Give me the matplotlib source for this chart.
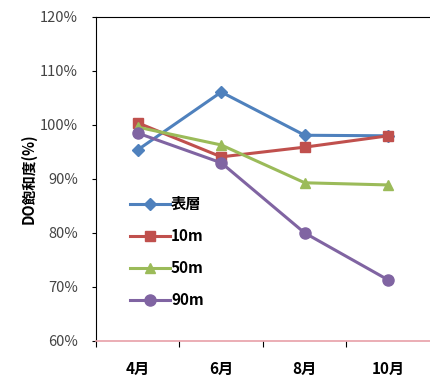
import matplotlib
matplotlib.use('Agg')
import matplotlib.pyplot as plt

plt.rcParams['font.family'] = ['Noto Sans CJK JP', 'DejaVu Sans']

months = ['4月', '6月', '8月', '10月']
surface = [95.4, 106.1, 98.1, 98.0]
depth_10m = [100.4, 94.1, 95.9, 98.0]
depth_50m = [99.6, 96.3, 89.3, 88.9]
depth_90m = [98.5, 93.0, 80.0, 71.3]
series_names = ['表層', '10m', '50m', '90m']
yticks = [60, 70, 80, 90, 100, 110, 120]

fig = plt.figure(figsize=(4.31, 3.76), dpi=100)
fig.patch.set_facecolor('white')
ax = fig.add_axes([96 / 431, 35 / 376, 334 / 431, 324 / 376])

x = range(len(months))
styles = [('#4F81BD', 'D', 6), ('#C0504D', 's', 7), ('#9BBB59', '^', 7), ('#8064A2', 'o', 8)]
for vals, name, (c, m, ms) in zip([surface, depth_10m, depth_50m, depth_90m], series_names, styles):
    ax.plot(x, vals, color=c, marker=m, markersize=ms, linewidth=2.2, label=name)

ax.set_xlim(-0.5, 3.5)
ax.set_ylim(60, 120)
ax.set_yticks(yticks)
ax.set_yticklabels([f'{v}%' for v in yticks], fontsize=10.5, color='#444444')

# month labels in the middle, tick marks on the category borders
ax.set_xticks([-0.5, 0.5, 1.5, 2.5])
ax.set_xticklabels([])
ax.set_xticks(list(x), minor=True)
ax.set_xticklabels(months, minor=True, fontsize=11, fontweight='bold')
ax.tick_params(axis='x', which='minor', length=0, pad=14)
ax.tick_params(axis='x', which='major', length=4, direction='out')
ax.tick_params(axis='y', length=3, direction='out', pad=10)

ax.spines['right'].set_visible(False)
ax.spines['left'].set_color('black')
ax.spines['top'].set_color('black')
ax.spines['bottom'].set_color('#E8A0A8')
ax.spines['bottom'].set_linewidth(1.2)

ax.set_ylabel('DO飽和度(%)', fontsize=10.5, fontweight='bold', labelpad=2)

leg = ax.legend(loc='upper left', bbox_to_anchor=(0.06, 0.49), frameon=False,
                fontsize=11, labelspacing=1.05, handlelength=2.6, handletextpad=0.1)
for t in leg.get_texts():
    t.set_fontweight('bold')

fig.savefig('out.png', dpi=100)
